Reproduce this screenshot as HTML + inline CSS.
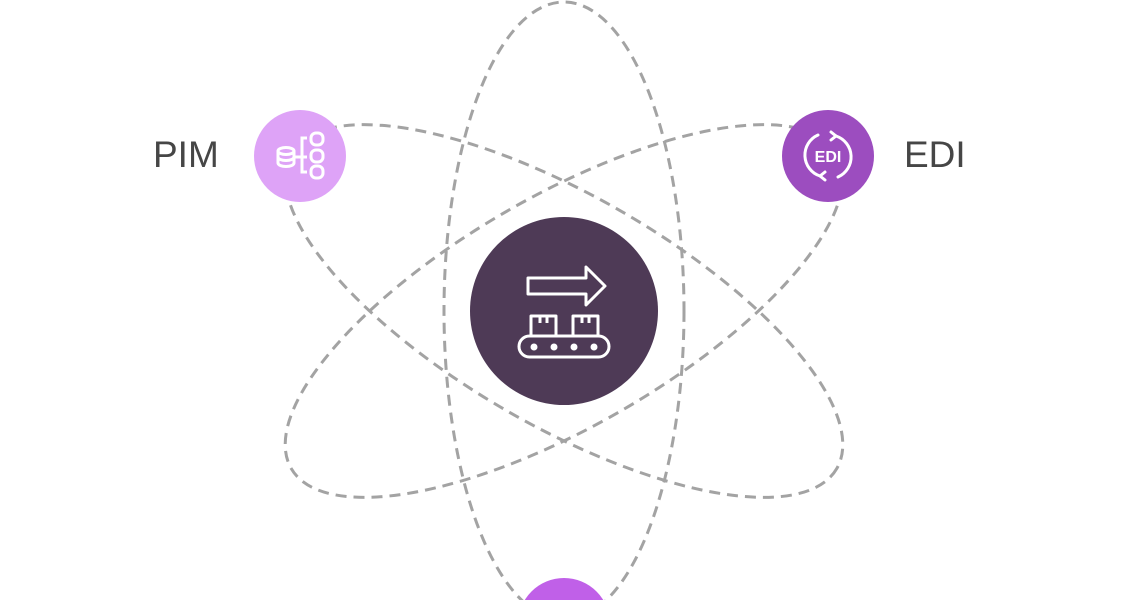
<!DOCTYPE html>
<html><head><style>
html,body{margin:0;padding:0;background:#fff;width:1128px;height:600px;overflow:hidden}
.t{position:absolute;font-family:"Liberation Sans",sans-serif;font-size:37px;color:#464646;top:134px}
</style></head><body>
<svg width="1128" height="600" style="position:absolute;left:0;top:0">
<g fill="none" stroke="#a3a3a3" stroke-width="3" stroke-dasharray="11 7">
<ellipse cx="564" cy="311" rx="120" ry="309"/>
<ellipse cx="564" cy="311" rx="315" ry="115" transform="rotate(30 564 311)"/>
<ellipse cx="564" cy="311" rx="315" ry="115" transform="rotate(-30 564 311)"/>
</g>
<circle cx="564" cy="311" r="94" fill="#4e3a56"/>
<g fill="none" stroke="#fff" stroke-width="3" stroke-linejoin="round">
<path d="M528 278 H586 V267 L605 286 L586 305 V294 H528 Z"/>
<rect x="531" y="316" width="25" height="20"/>
<rect x="573" y="316" width="25" height="20"/>
<path d="M540 316 v7 M547 316 v7 M582 316 v7 M589 316 v7"/>
<rect x="519" y="336" width="90" height="21" rx="10.5"/>
</g>
<g fill="#fff"><circle cx="534" cy="347" r="3.5"/><circle cx="554" cy="347" r="3.5"/><circle cx="574" cy="347" r="3.5"/><circle cx="594" cy="347" r="3.5"/></g>
<circle cx="300" cy="156" r="46" fill="#dea3f7"/>
<g fill="none" stroke="#fff" stroke-width="3">
<ellipse cx="286" cy="151" rx="8" ry="3.5"/><path d="M278 151 v12 a8 3.5 0 0 0 16 0 v-12 M278 157 a8 3.5 0 0 0 16 0"/>
<path d="M294 157 h8 M307 138 h-5 v34 h5 M302 157 h5"/>
<rect x="311" y="133" width="12" height="12" rx="5"/><rect x="311" y="150" width="12" height="12" rx="5"/><rect x="311" y="166" width="12" height="12" rx="5"/>
</g>
<circle cx="828" cy="156" r="46" fill="#9c4dbf"/>
<g fill="none" stroke="#fff" stroke-width="3" stroke-linecap="round">
<path d="M818 135 A22 22 0 0 0 820 176"/><path d="M838 177 A22 22 0 0 0 836 136"/>
<path d="M820 176 l5 -4 M820 176 l5 4 M836 136 l-5 -4 M836 136 l-5 4"/>
</g>
<text x="828" y="162" text-anchor="middle" font-family="Liberation Sans" font-weight="bold" font-size="16" fill="#fff">EDI</text>
<circle cx="564" cy="624" r="46" fill="#c060e8"/>
</svg>
<div class="t" style="left:153px">PIM</div>
<div class="t" style="left:904px">EDI</div>
</body></html>
